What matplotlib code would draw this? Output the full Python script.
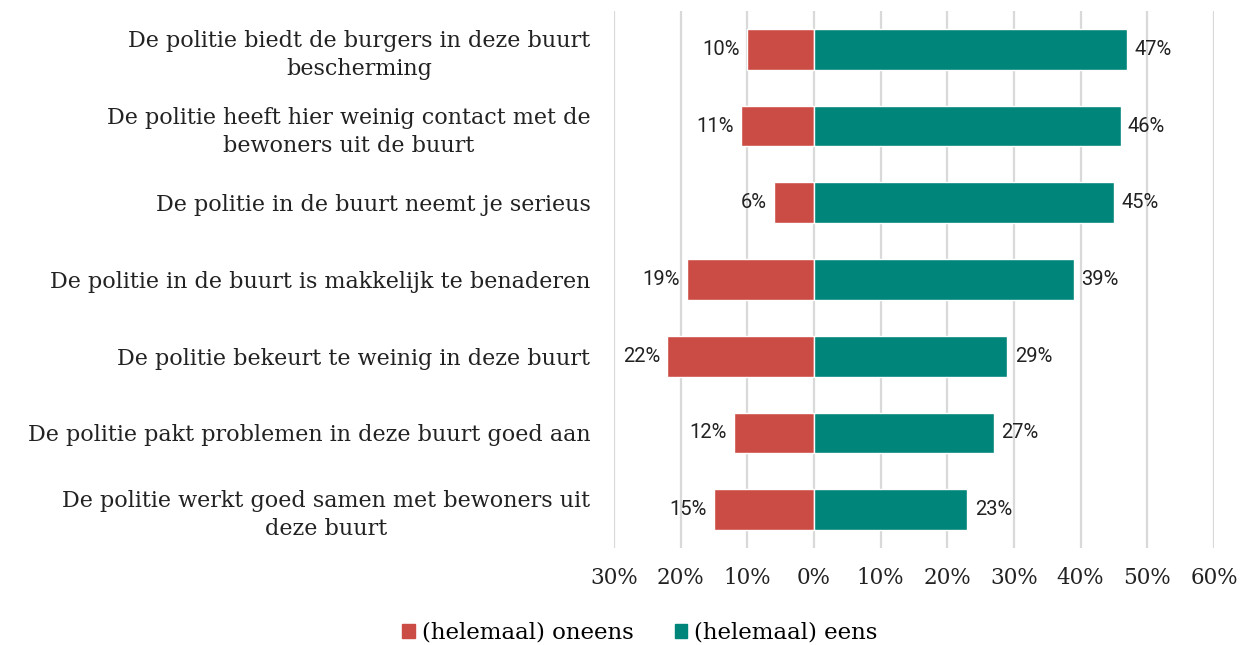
import matplotlib.pyplot as plt
from matplotlib.patches import Patch

# Stellingen over de politie in de buurt (van boven naar beneden)
statements = [
    "De politie biedt de burgers in deze buurt\nbescherming",
    "De politie heeft hier weinig contact met de\nbewoners uit de buurt",
    "De politie in de buurt neemt je serieus",
    "De politie in de buurt is makkelijk te benaderen",
    "De politie bekeurt te weinig in deze buurt",
    "De politie pakt problemen in deze buurt goed aan",
    "De politie werkt goed samen met bewoners uit\ndeze buurt",
]
disagree = [10, 11, 6, 19, 22, 12, 15]   # (helemaal) oneens
agree = [47, 46, 45, 39, 29, 27, 23]     # (helemaal) eens
xticks = [-30, -20, -10, 0, 10, 20, 30, 40, 50, 60]

red = "#cb4c44"
teal = "#00857b"
serif = "DejaVu Serif"

fig = plt.figure(figsize=(12.44, 6.45), dpi=100)
ax = fig.add_axes([614 / 1244, 97 / 645, 600 / 1244, 537 / 645])

y = list(range(len(statements)))
ax.barh(y, [-v for v in disagree], height=0.53, color=red, edgecolor="white", linewidth=1, zorder=3)
ax.barh(y, agree, height=0.53, color=teal, edgecolor="white", linewidth=1, zorder=3)

for yi, d, a in zip(y, disagree, agree):
    ax.text(-d - 1.1, yi, f"{d}%", ha="right", va="center", fontsize=14.5, family="Roboto", color="#222222")
    ax.text(a + 1.1, yi, f"{a}%", ha="left", va="center", fontsize=14.5, family="Roboto", color="#222222")

ax.set_xlim(-30, 60)
ax.set_ylim(len(statements) - 0.5, -0.5)
ax.set_xticks(xticks)
ax.set_xticklabels([f"{abs(t)}%" for t in xticks], family=serif, fontsize=15.5, color="#222222")
ax.set_yticks(y)
ax.set_yticklabels(statements, family=serif, fontsize=16, color="#222222",
                   multialignment="center", linespacing=1.35)
ax.tick_params(axis="both", length=0)
ax.tick_params(axis="y", pad=17)
ax.tick_params(axis="x", pad=14)

ax.grid(axis="x", color="#d9d9d9", linewidth=1.6, zorder=0)
ax.set_axisbelow(True)
for s in ax.spines.values():
    s.set_visible(False)

handles = [Patch(color=red, label="(helemaal) oneens"), Patch(color=teal, label="(helemaal) eens")]
fig.legend(handles=handles, loc="center", bbox_to_anchor=(640 / 1244, 1 - 633 / 645), ncol=2,
           frameon=False, prop={"family": serif, "size": 16.5}, handlelength=0.55, handleheight=0.55,
           handletextpad=0.3, columnspacing=1.8)

fig.savefig("out.png", dpi=100)
